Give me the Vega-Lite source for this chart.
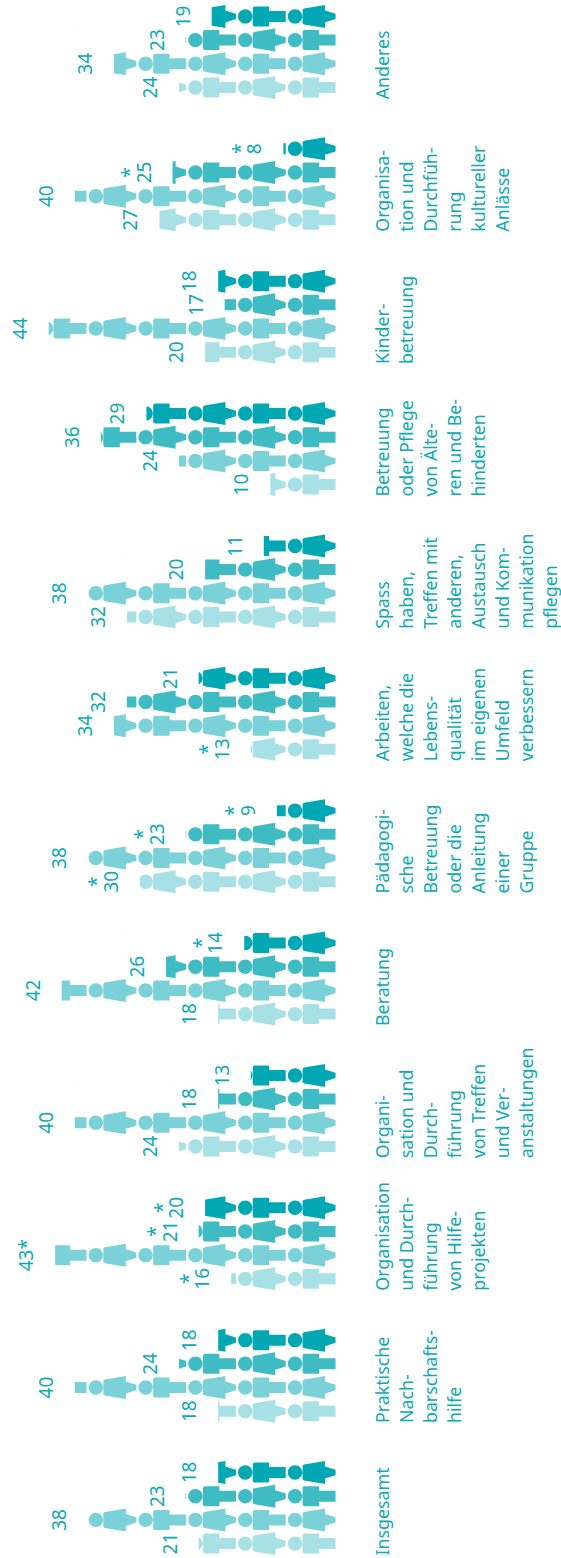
{"$schema":"https://vega.github.io/schema/vega-lite/v6.json","width":561,"height":1558,"padding":0,"autosize":{"type":"none"},"background":"white","config":{"view":{"stroke":null}},
"datasets":{"rows":[
{"Gruppe":"Anderes","Reihe":1,"Wert":19,"Label":"19"},{"Gruppe":"Anderes","Reihe":2,"Wert":23,"Label":"23"},{"Gruppe":"Anderes","Reihe":3,"Wert":34,"Label":"34"},{"Gruppe":"Anderes","Reihe":4,"Wert":24,"Label":"24"},
{"Gruppe":"Kultur","Reihe":1,"Wert":8,"Label":"8","Stern":"*"},{"Gruppe":"Kultur","Reihe":2,"Wert":25,"Label":"25","Stern":"*"},{"Gruppe":"Kultur","Reihe":3,"Wert":40,"Label":"40"},{"Gruppe":"Kultur","Reihe":4,"Wert":27,"Label":"27"},
{"Gruppe":"Kinder","Reihe":1,"Wert":18,"Label":"18"},{"Gruppe":"Kinder","Reihe":2,"Wert":17,"Label":"17"},{"Gruppe":"Kinder","Reihe":3,"Wert":44,"Label":"44"},{"Gruppe":"Kinder","Reihe":4,"Wert":20,"Label":"20"},
{"Gruppe":"Pflege","Reihe":1,"Wert":29,"Label":"29"},{"Gruppe":"Pflege","Reihe":2,"Wert":36,"Label":"36"},{"Gruppe":"Pflege","Reihe":3,"Wert":24,"Label":"24"},{"Gruppe":"Pflege","Reihe":4,"Wert":10,"Label":"10"},
{"Gruppe":"Spass","Reihe":1,"Wert":11,"Label":"11"},{"Gruppe":"Spass","Reihe":2,"Wert":20,"Label":"20"},{"Gruppe":"Spass","Reihe":3,"Wert":38,"Label":"38"},{"Gruppe":"Spass","Reihe":4,"Wert":32,"Label":"32"},
{"Gruppe":"Arbeiten","Reihe":1,"Wert":21,"Label":"21"},{"Gruppe":"Arbeiten","Reihe":2,"Wert":32,"Label":"32"},{"Gruppe":"Arbeiten","Reihe":3,"Wert":34,"Label":"34"},{"Gruppe":"Arbeiten","Reihe":4,"Wert":13,"Label":"13","Stern":"*"},
{"Gruppe":"Paedagogik","Reihe":1,"Wert":9,"Label":"9","Stern":"*"},{"Gruppe":"Paedagogik","Reihe":2,"Wert":23,"Label":"23","Stern":"*"},{"Gruppe":"Paedagogik","Reihe":3,"Wert":38,"Label":"38"},{"Gruppe":"Paedagogik","Reihe":4,"Wert":30,"Label":"30","Stern":"*"},
{"Gruppe":"Beratung","Reihe":1,"Wert":14,"Label":"14","Stern":"*"},{"Gruppe":"Beratung","Reihe":2,"Wert":26,"Label":"26"},{"Gruppe":"Beratung","Reihe":3,"Wert":42,"Label":"42"},{"Gruppe":"Beratung","Reihe":4,"Wert":18,"Label":"18"},
{"Gruppe":"Treffen","Reihe":1,"Wert":13,"Label":"13"},{"Gruppe":"Treffen","Reihe":2,"Wert":18,"Label":"18"},{"Gruppe":"Treffen","Reihe":3,"Wert":40,"Label":"40"},{"Gruppe":"Treffen","Reihe":4,"Wert":24,"Label":"24"},
{"Gruppe":"Hilfe","Reihe":1,"Wert":20,"Label":"20","Stern":"*"},{"Gruppe":"Hilfe","Reihe":2,"Wert":21,"Label":"21","Stern":"*"},{"Gruppe":"Hilfe","Reihe":3,"Wert":43,"Label":"43*"},{"Gruppe":"Hilfe","Reihe":4,"Wert":16,"Label":"16","Stern":"*"},
{"Gruppe":"Nachbarn","Reihe":1,"Wert":18,"Label":"18"},{"Gruppe":"Nachbarn","Reihe":2,"Wert":24,"Label":"24"},{"Gruppe":"Nachbarn","Reihe":3,"Wert":40,"Label":"40"},{"Gruppe":"Nachbarn","Reihe":4,"Wert":18,"Label":"18"},
{"Gruppe":"Insgesamt","Reihe":1,"Wert":18,"Label":"18"},{"Gruppe":"Insgesamt","Reihe":2,"Wert":23,"Label":"23"},{"Gruppe":"Insgesamt","Reihe":3,"Wert":38,"Label":"38"},{"Gruppe":"Insgesamt","Reihe":4,"Wert":21,"Label":"21"}
],"cats":[
{"Gruppe":"Anderes","Titel":"Anderes"},
{"Gruppe":"Kultur","Titel":"Organisa-\ntion und\nDurchfüh-\nrung\nkultureller\nAnlässe"},
{"Gruppe":"Kinder","Titel":"Kinder-\nbetreuung"},
{"Gruppe":"Pflege","Titel":"Betreuung\noder Pflege\nvon Älte-\nren und Be-\nhinderten"},
{"Gruppe":"Spass","Titel":"Spass\nhaben,\nTreffen mit\nanderen,\nAustausch\nund Kom-\nmunikation\npflegen"},
{"Gruppe":"Arbeiten","Titel":"Arbeiten,\nwelche die\nLebens-\nqualität\nim eigenen\nUmfeld\nverbessern"},
{"Gruppe":"Paedagogik","Titel":"Pädagogi-\nsche\nBetreuung\noder die\nAnleitung\neiner\nGruppe"},
{"Gruppe":"Beratung","Titel":"Beratung"},
{"Gruppe":"Treffen","Titel":"Organi-\nsation und\nDurch-\nführung\nvon Treffen\nund Ver-\nanstaltungen"},
{"Gruppe":"Hilfe","Titel":"Organisation\nund Durch-\nführung\nvon Hilfe-\nprojekten"},
{"Gruppe":"Nachbarn","Titel":"Praktische\nNach-\nbarschafts-\nhilfe"},
{"Gruppe":"Insgesamt","Titel":"Insgesamt"}
]},
"encoding":{"y":{"field":"Gruppe","type":"nominal","axis":null,"sort":["Anderes","Kultur","Kinder","Pflege","Spass","Arbeiten","Paedagogik","Beratung","Treffen","Hilfe","Nachbarn","Insgesamt"],"scale":{"type":"band","paddingInner":0.284,"paddingOuter":0.027,"range":[1,1559]}}},
"layer":[
{"data":{"name":"rows"},"mark":{"type":"point","filled":true,"size":4,"opacity":1,"strokeWidth":0},
"encoding":{"x":{"datum":0,"type":"quantitative","axis":null,"scale":{"domain":[-34.58,51.46],"reverse":true,"nice":false,"zero":false}},
"yOffset":{"field":"Reihe","type":"nominal","scale":{"paddingInner":0,"paddingOuter":0}},
"color":{"field":"Reihe","type":"nominal","legend":null,"scale":{"domain":[1,2,3,4],"range":["#00a8b4","#3fbbc4","#7bd1d8","#a8e1e5"]}},
"shape":{"field":"Reihe","type":"nominal","legend":null,"scale":{"domain":[1,2,3,4],"range":[
"M0,-2.7l-10.5,-3.3v-5.5l-21,3.5q-1.5,0.3,-1.5,2v12q0,1.7,1.5,2l21,3.5v-5.5l10.5,-3.3zM-47.7,0a7.2,7.2,0,1,1,14.4,0a7.2,7.2,0,1,1,-14.4,0zM-49.8,-5.5h-16.5v-4.5h-14.5q-2,0,-2,2v16q0,2,2,2h14.5v-4.5h16.5zM-97.5,0a7.2,7.2,0,1,1,14.4,0a7.2,7.2,0,1,1,-14.4,0zM-99.6,-2.7l-10.5,-3.3v-5.5l-21,3.5q-1.5,0.3,-1.5,2v12q0,1.7,1.5,2l21,3.5v-5.5l10.5,-3.3zM-147.3,0a7.2,7.2,0,1,1,14.4,0a7.2,7.2,0,1,1,-14.4,0zM-149.4,-5.5h-16.5v-4.5h-14.5q-2,0,-2,2v16q0,2,2,2h14.5v-4.5h16.5zM-197.1,0a7.2,7.2,0,1,1,14.4,0a7.2,7.2,0,1,1,-14.4,0zM-199.2,-2.7l-10.5,-3.3v-5.5l-21,3.5q-1.5,0.3,-1.5,2v12q0,1.7,1.5,2l21,3.5v-5.5l10.5,-3.3zM-246.9,0a7.2,7.2,0,1,1,14.4,0a7.2,7.2,0,1,1,-14.4,0zM-249,-5.5h-16.5v-4.5h-14.5q-2,0,-2,2v16q0,2,2,2h14.5v-4.5h16.5zM-296.7,0a7.2,7.2,0,1,1,14.4,0a7.2,7.2,0,1,1,-14.4,0z",
"M0,-5.5h-16.5v-4.5h-14.5q-2,0,-2,2v16q0,2,2,2h14.5v-4.5h16.5zM-47.7,0a7.2,7.2,0,1,1,14.4,0a7.2,7.2,0,1,1,-14.4,0zM-49.8,-2.7l-10.5,-3.3v-5.5l-21,3.5q-1.5,0.3,-1.5,2v12q0,1.7,1.5,2l21,3.5v-5.5l10.5,-3.3zM-97.5,0a7.2,7.2,0,1,1,14.4,0a7.2,7.2,0,1,1,-14.4,0zM-99.6,-5.5h-16.5v-4.5h-14.5q-2,0,-2,2v16q0,2,2,2h14.5v-4.5h16.5zM-147.3,0a7.2,7.2,0,1,1,14.4,0a7.2,7.2,0,1,1,-14.4,0zM-149.4,-2.7l-10.5,-3.3v-5.5l-21,3.5q-1.5,0.3,-1.5,2v12q0,1.7,1.5,2l21,3.5v-5.5l10.5,-3.3zM-197.1,0a7.2,7.2,0,1,1,14.4,0a7.2,7.2,0,1,1,-14.4,0zM-199.2,-5.5h-16.5v-4.5h-14.5q-2,0,-2,2v16q0,2,2,2h14.5v-4.5h16.5zM-246.9,0a7.2,7.2,0,1,1,14.4,0a7.2,7.2,0,1,1,-14.4,0zM-249,-2.7l-10.5,-3.3v-5.5l-21,3.5q-1.5,0.3,-1.5,2v12q0,1.7,1.5,2l21,3.5v-5.5l10.5,-3.3zM-296.7,0a7.2,7.2,0,1,1,14.4,0a7.2,7.2,0,1,1,-14.4,0z",
"M0,-2.7l-10.5,-3.3v-5.5l-21,3.5q-1.5,0.3,-1.5,2v12q0,1.7,1.5,2l21,3.5v-5.5l10.5,-3.3zM-47.7,0a7.2,7.2,0,1,1,14.4,0a7.2,7.2,0,1,1,-14.4,0zM-49.8,-5.5h-16.5v-4.5h-14.5q-2,0,-2,2v16q0,2,2,2h14.5v-4.5h16.5zM-97.5,0a7.2,7.2,0,1,1,14.4,0a7.2,7.2,0,1,1,-14.4,0zM-99.6,-2.7l-10.5,-3.3v-5.5l-21,3.5q-1.5,0.3,-1.5,2v12q0,1.7,1.5,2l21,3.5v-5.5l10.5,-3.3zM-147.3,0a7.2,7.2,0,1,1,14.4,0a7.2,7.2,0,1,1,-14.4,0zM-149.4,-5.5h-16.5v-4.5h-14.5q-2,0,-2,2v16q0,2,2,2h14.5v-4.5h16.5zM-197.1,0a7.2,7.2,0,1,1,14.4,0a7.2,7.2,0,1,1,-14.4,0zM-199.2,-2.7l-10.5,-3.3v-5.5l-21,3.5q-1.5,0.3,-1.5,2v12q0,1.7,1.5,2l21,3.5v-5.5l10.5,-3.3zM-246.9,0a7.2,7.2,0,1,1,14.4,0a7.2,7.2,0,1,1,-14.4,0zM-249,-5.5h-16.5v-4.5h-14.5q-2,0,-2,2v16q0,2,2,2h14.5v-4.5h16.5zM-296.7,0a7.2,7.2,0,1,1,14.4,0a7.2,7.2,0,1,1,-14.4,0z",
"M0,-5.5h-16.5v-4.5h-14.5q-2,0,-2,2v16q0,2,2,2h14.5v-4.5h16.5zM-47.7,0a7.2,7.2,0,1,1,14.4,0a7.2,7.2,0,1,1,-14.4,0zM-49.8,-2.7l-10.5,-3.3v-5.5l-21,3.5q-1.5,0.3,-1.5,2v12q0,1.7,1.5,2l21,3.5v-5.5l10.5,-3.3zM-97.5,0a7.2,7.2,0,1,1,14.4,0a7.2,7.2,0,1,1,-14.4,0zM-99.6,-5.5h-16.5v-4.5h-14.5q-2,0,-2,2v16q0,2,2,2h14.5v-4.5h16.5zM-147.3,0a7.2,7.2,0,1,1,14.4,0a7.2,7.2,0,1,1,-14.4,0zM-149.4,-2.7l-10.5,-3.3v-5.5l-21,3.5q-1.5,0.3,-1.5,2v12q0,1.7,1.5,2l21,3.5v-5.5l10.5,-3.3zM-197.1,0a7.2,7.2,0,1,1,14.4,0a7.2,7.2,0,1,1,-14.4,0zM-199.2,-5.5h-16.5v-4.5h-14.5q-2,0,-2,2v16q0,2,2,2h14.5v-4.5h16.5zM-246.9,0a7.2,7.2,0,1,1,14.4,0a7.2,7.2,0,1,1,-14.4,0zM-249,-2.7l-10.5,-3.3v-5.5l-21,3.5q-1.5,0.3,-1.5,2v12q0,1.7,1.5,2l21,3.5v-5.5l10.5,-3.3zM-296.7,0a7.2,7.2,0,1,1,14.4,0a7.2,7.2,0,1,1,-14.4,0z"
]}}}},
{"data":{"name":"rows"},"mark":{"type":"bar","fill":"white","stroke":null},
"encoding":{"x":{"field":"Wert","type":"quantitative"},"x2":{"datum":51.46},"yOffset":{"field":"Reihe","type":"nominal"}}},
{"data":{"name":"rows"},"mark":{"type":"text","angle":270,"align":"center","baseline":"bottom","font":"Noto Sans","fontSize":19,"dy":-18,"color":"#0aaab6"},
"encoding":{"x":{"field":"Wert","type":"quantitative"},"yOffset":{"field":"Reihe","type":"nominal"},"text":{"field":"Label"}}},
{"data":{"name":"rows"},"transform":[{"filter":"datum.Stern == '*'"}],"mark":{"type":"text","angle":270,"align":"center","baseline":"bottom","font":"Noto Sans","fontSize":19,"dy":-32.6,"color":"#0aaab6"},
"encoding":{"x":{"field":"Wert","type":"quantitative"},"yOffset":{"field":"Reihe","type":"nominal"},"text":{"field":"Stern"}}},
{"data":{"name":"cats"},"mark":{"type":"text","angle":270,"align":"left","baseline":"alphabetic","lineBreak":"\n","lineHeight":24,"font":"Noto Sans","fontSize":17.8,"color":"#0aaab6"},
"encoding":{"x":{"datum":-8.2,"type":"quantitative"},"y":{"field":"Gruppe","type":"nominal","bandPosition":1,"axis":null,"sort":["Anderes","Kultur","Kinder","Pflege","Spass","Arbeiten","Paedagogik","Beratung","Treffen","Hilfe","Nachbarn","Insgesamt"],"scale":{"type":"band","paddingInner":0.284,"paddingOuter":0.027,"range":[1,1559]}},"text":{"field":"Titel"}}}
]}
